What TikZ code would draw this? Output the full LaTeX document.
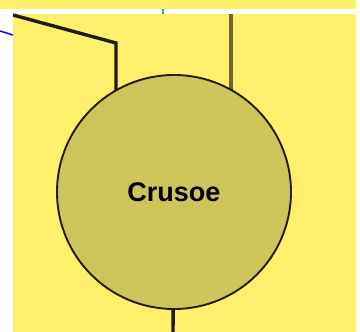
\documentclass[tikz,border=0pt]{standalone}
\usepackage{fontspec}
\setmainfont{Liberation Sans}
\pgfdeclarelayer{background}
\pgfsetlayers{background,main}
\begin{document}
\begin{tikzpicture}[x=1pt,y=-1pt,
  bg/.style={fill=yelbg,draw=none},
  wire/.style={line width=3.4pt,draw=wireblack},
  wiregray/.style={line width=3.2pt,draw=wiregray},
  station/.style={circle,draw=wireblack,line width=1.9pt,fill=circfill,minimum size=234pt,inner sep=0pt,font=\bfseries\fontsize{27}{32}\selectfont}]
\definecolor{yelbg}{HTML}{FEF06A}
\definecolor{circfill}{HTML}{CEC55A}
\definecolor{wireblack}{HTML}{1E1C10}
\definecolor{wiregray}{HTML}{6B6638}
\definecolor{tickgreen}{HTML}{3FA66A}
\useasboundingbox (0,0) rectangle (360,332);
\node[station] (c) at (174,192) {Crusoe};
\coordinate (lt) at (13,15);
\coordinate (lk) at (116,43);
\coordinate (rt) at (231,14);
\coordinate (bt) at (173,332);
\begin{pgfonlayer}{background}
\fill[white] (0,0) rectangle (360,332);
\fill[bg] (0,0) rectangle (356,9);
\fill[bg] (13,14) rectangle (356,332);
\draw[tickgreen,line width=1.8pt] (163,9) -- (163,14);
\draw[blue,line width=1.5pt] (0,31) -- (13,35);
\begin{scope}
\clip (13,14) rectangle (356,332);
\draw[wire,line join=miter] (lt) -- (lk) -- (116,192);
\draw[wiregray] (rt) -- (231,192);
\draw[wire] (c.center) -- (bt);
\end{scope}
\end{pgfonlayer}
\end{tikzpicture}
\end{document}
